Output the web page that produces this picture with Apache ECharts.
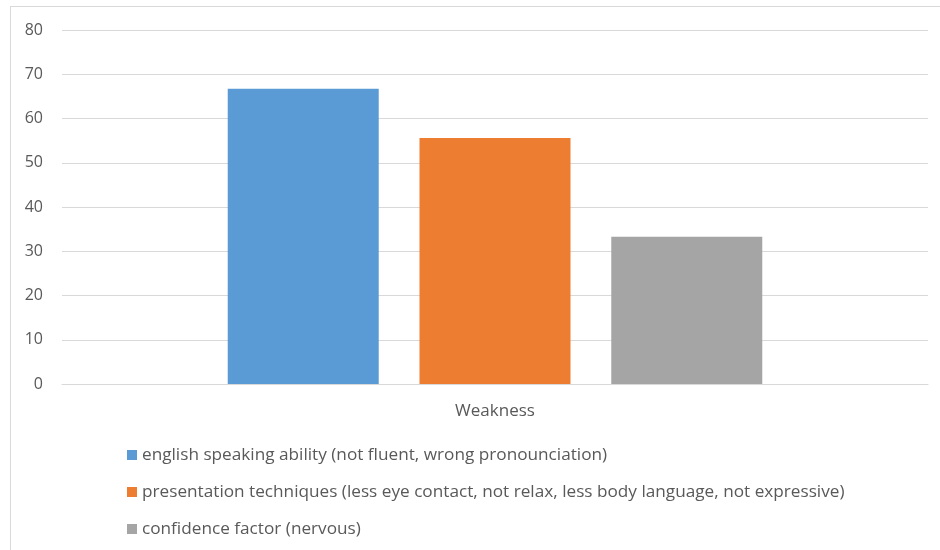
<!DOCTYPE html>
<html>
<head>
<meta charset="utf-8">
<script src="https://cdn.jsdelivr.net/npm/echarts@6/dist/echarts.min.js"></script>
<style>
  html, body { margin: 0; padding: 0; background: #fff; }
  #frame {
    position: absolute; left: 10px; top: 6px; width: 940px; height: 560px;
    border: 1px solid #d9d9d9; box-sizing: border-box;
  }
  #chart { position: absolute; left: 0; top: 0; width: 940px; height: 550px; }
</style>
</head>
<body>
<div id="frame"></div>
<div id="chart"></div>
<script>
// 数据
const categories = ["Weakness"];
const seriesNames = [
  "english speaking ability (not fluent, wrong pronounciation)",
  "presentation techniques (less eye contact, not relax, less body language, not expressive)",
  "confidence factor (nervous)"
];
const englishValues = [66.7];
const presentationValues = [55.6];
const confidenceValues = [33.3];
const colors = ["#5b9bd5", "#ed7d31", "#a5a5a5"];

const font = "'Open Sans', 'Noto Sans', sans-serif";
const textColor = "#595959";

const chart = echarts.init(document.getElementById("chart"));

const makeSeries = (name, data, idx) => ({
  name: name,
  type: "bar",
  data: data,
  barWidth: 151,
  barGap: "27%",
  itemStyle: { color: colors[idx] },
  animation: false
});

chart.setOption({
  animation: false,
  grid: { left: 62, right: 12, top: 30, bottom: 166, containLabel: false },
  xAxis: {
    type: "category",
    data: categories,
    axisLine: { lineStyle: { color: "#d9d9d9", width: 1 } },
    axisTick: { show: false },
    axisLabel: { color: textColor, fontFamily: font, fontSize: 17, margin: 19 }
  },
  yAxis: {
    type: "value",
    min: 0,
    max: 80,
    interval: 10,
    axisLine: { show: false },
    axisTick: { show: false },
    splitLine: { lineStyle: { color: "#d9d9d9", width: 1 } },
    axisLabel: { color: textColor, fontFamily: font, fontSize: 16, margin: 19 }
  },
  legend: {
    orient: "vertical",
    left: 122,
    top: 439,
    itemWidth: 10,
    itemHeight: 10,
    itemGap: 15,
    icon: "rect",
    textStyle: { color: textColor, fontFamily: font, fontSize: 17.2, lineHeight: 22 },
    data: seriesNames
  },
  series: [
    makeSeries(seriesNames[0], englishValues, 0),
    makeSeries(seriesNames[1], presentationValues, 1),
    makeSeries(seriesNames[2], confidenceValues, 2)
  ]
});
</script>
</body>
</html>
